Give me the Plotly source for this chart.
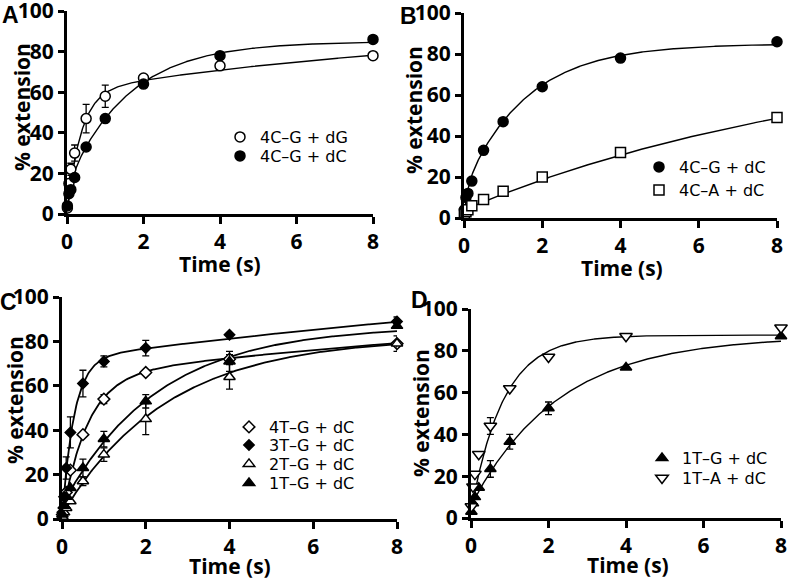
import numpy as np
import plotly.graph_objects as go

# ---------------- data ----------------
TIME = [0.01, 0.05, 0.1, 0.2, 0.5, 1, 2, 4, 8]

# Panel A
A_4CG_dG = [3, 15, 22, 30, 47, 58, 67, 73, 78]
A_4CG_dG_err = [0, 0, 3, 4, 7, 5.5, 1, 0, 0]
A_4CG_dC = [4, 10, 12, 18, 33, 47, 64, 78, 86]
A_4CG_dC_err = [0, 0, 0, 0, 0, 0, 0, 0, 0]

# Panel B
B_4CG_dC = [4, 10, 12, 18, 33, 47, 64, 78, 86]
B_4CA_dC = [2, 3, 4, 6, 9, 13, 20, 32, 49]
B_zero_err = [0, 0, 0, 0, 0, 0, 0, 0, 0]

# Panel C
C_4TG = [2, 5, 12, 22, 38, 54, 66, 72, 79]
C_4TG_err = [0, 0, 0, 0, 0, 2, 1, 2, 0]
C_3TG = [3, 10, 23, 39, 61, 71, 77, 83, 89]
C_3TG_err = [0, 0, 5, 7, 6, 2.5, 3.5, 0, 2]
C_2TG = [1, 3, 5, 8, 17, 29, 45, 64, 79]
C_2TG_err = [0, 0, 0, 0, 2, 3, 7, 5.5, 3.5]
C_1TG = [2, 6, 10, 14, 23, 36, 53, 71, 87]
C_1TG_err = [0, 0, 0, 0, 4, 3.5, 3, 4.5, 0]

# Panel D
D_1TG = [3, 7, 10, 14.5, 23.5, 36.5, 52.5, 72, 87]
D_1TG_err = [0, 0, 0, 0, 4, 3.5, 3, 0, 0]
D_1TA = [5.5, 15, 21, 30.5, 44, 62, 77, 87, 91]
D_1TA_err = [0, 0, 0, 0, 4, 0, 0, 0, 0]

# Fit parameters: [offset, amp1, rate1, amp2, rate2]
FIT_A_dG = [0, 60, 2.8, 33, 0.1]
FIT_A_dC = [2, 12, 10, 71, 0.63]
FIT_B_4CA = [4, 81, 0.1, 0, 0]
FIT_C_4TG = [0, 64, 1.7, 40, 0.06]
FIT_C_3TG = [0, 72, 3.5, 51, 0.05]
FIT_C_2TG = [2, 80, 0.40, 0, 0]
FIT_1TG = [6, 81, 0.44, 0, 0]
FIT_D_1TA = [3, 84.5, 1.2, 0, 0]

X_TICKS = [0, 2, 4, 6, 8]
Y_TICKS = [0, 20, 40, 60, 80, 100]

# ---------------- figure ----------------
W, H = 790, 578
tgrid = np.linspace(0, 8, 400)


def model(p, t):
    c, a1, k1, a2, k2 = p
    return c + a1 * (1 - np.exp(-k1 * t)) + a2 * (1 - np.exp(-k2 * t))


def domx(l, r):
    return [l / W, r / W]


def domy(top, bottom):
    return [1 - bottom / H, 1 - top / H]


fig = go.Figure()

BLACK = "black"
LEGFONT = dict(family="DejaVu Sans", size=16, color=BLACK)
legends = {}


def add_points(name, y, err, symbol, filled, size, xa, ya, leg_xy):
    key = "legend" if not legends else "legend%d" % (len(legends) + 1)
    legends[key] = dict(x=leg_xy[0] / W, y=1 - leg_xy[1] / H,
                        xanchor="left", yanchor="middle", font=LEGFONT,
                        bgcolor="rgba(0,0,0,0)", borderwidth=0, itemwidth=30)
    fig.add_trace(go.Scatter(
        x=TIME, y=y, mode="markers", name=name,
        xaxis=xa, yaxis=ya, legend=key, cliponaxis=False,
        marker=dict(symbol=symbol, size=size,
                    color=BLACK if filled else "white",
                    line=dict(color=BLACK, width=1.5)),
        error_y=dict(type="data", array=err, visible=True,
                     color=BLACK, thickness=1.3, width=3.5),
    ))


def add_fit(p, xa, ya, width=1.4):
    fig.add_trace(go.Scatter(
        x=tgrid, y=model(p, tgrid), mode="lines", showlegend=False,
        xaxis=xa, yaxis=ya, hoverinfo="skip",
        line=dict(color=BLACK, width=width),
    ))


# Panel A
add_fit(FIT_A_dG, "x", "y")
add_fit(FIT_A_dC, "x", "y")
add_points("4C–G + dG", A_4CG_dG, A_4CG_dG_err, "circle", False, 10, "x", "y", (220, 137))
add_points("4C–G + dC", A_4CG_dC, A_4CG_dC_err, "circle", True, 10, "x", "y", (220, 156))

# Panel B
add_fit(FIT_A_dC, "x2", "y2")
add_fit(FIT_B_4CA, "x2", "y2")
add_points("4C–G + dC", B_4CG_dC, B_zero_err, "circle", True, 10, "x2", "y2", (639, 167))
add_points("4C–A + dC", B_4CA_dC, B_zero_err, "square", False, 10, "x2", "y2", (639, 190))

# Panel C
add_fit(FIT_C_4TG, "x3", "y3", 1.8)
add_fit(FIT_C_3TG, "x3", "y3", 1.8)
add_fit(FIT_C_2TG, "x3", "y3", 1.8)
add_fit(FIT_1TG, "x3", "y3", 1.8)
add_points("4T–G + dC", C_4TG, C_4TG_err, "diamond", False, 9, "x3", "y3", (229, 427))
add_points("3T–G + dC", C_3TG, C_3TG_err, "diamond", True, 8, "x3", "y3", (229, 445))
add_points("2T–G + dC", C_2TG, C_2TG_err, "triangle-up", False, 10, "x3", "y3", (229, 464))
add_points("1T–G + dC", C_1TG, C_1TG_err, "triangle-up", True, 10, "x3", "y3", (229, 483))

# Panel D
add_fit(FIT_1TG, "x4", "y4")
add_fit(FIT_D_1TA, "x4", "y4")
add_points("1T–G + dC", D_1TG, D_1TG_err, "triangle-up", True, 10, "x4", "y4", (642, 458))
add_points("1T–A + dC", D_1TA, D_1TA_err, "triangle-down", False, 11, "x4", "y4", (642, 478))

TICKFONT = dict(family="Open Sans", size=21, color=BLACK, weight="bold")


def xaxis(dom, anchor):
    return dict(domain=dom, anchor=anchor, range=[0, 8], tickmode="array",
                tickvals=X_TICKS, ticktext=[str(v) for v in X_TICKS],
                showline=True, linecolor=BLACK, linewidth=3.2,
                ticks="outside", ticklen=7, tickwidth=3, tickcolor=BLACK,
                showgrid=False, zeroline=False, tickfont=TICKFONT,
                automargin=False, ticklabeloverflow="allow")


def yaxis(dom, anchor):
    return dict(domain=dom, anchor=anchor, range=[0, 100], tickmode="array",
                tickvals=Y_TICKS, ticktext=[str(v) for v in Y_TICKS],
                showline=True, linecolor=BLACK, linewidth=3.2,
                ticks="outside", ticklen=6, tickwidth=3, tickcolor=BLACK,
                showgrid=False, zeroline=False, tickfont=TICKFONT,
                automargin=False, ticklabeloverflow="allow")


PANELS = {
    "A": dict(xd=domx(67, 373), yd=domy(11, 214)),
    "B": dict(xd=domx(464, 777), yd=domy(13, 218)),
    "C": dict(xd=domx(62, 397), yd=domy(297, 519)),
    "D": dict(xd=domx(471, 781), yd=domy(309, 518)),
}

fig.update_layout(
    width=W, height=H, margin=dict(l=0, r=0, t=0, b=0, autoexpand=False),
    paper_bgcolor="white", plot_bgcolor="white",
    xaxis=xaxis(PANELS["A"]["xd"], "y"), yaxis=yaxis(PANELS["A"]["yd"], "x"),
    xaxis2=xaxis(PANELS["B"]["xd"], "y2"), yaxis2=yaxis(PANELS["B"]["yd"], "x2"),
    xaxis3=xaxis(PANELS["C"]["xd"], "y3"), yaxis3=yaxis(PANELS["C"]["yd"], "x3"),
    xaxis4=xaxis(PANELS["D"]["xd"], "y4"), yaxis4=yaxis(PANELS["D"]["yd"], "x4"),
    showlegend=True,
    **legends,
)

TITLEFONT = dict(family="Open Sans", size=21, color=BLACK, weight="bold")
LETTERFONT = dict(family="Liberation Sans", size=23, color=BLACK, weight="bold")


def ann(text, xpx, ypx, font, angle=0):
    fig.add_annotation(text=text, x=xpx / W, y=1 - ypx / H, xref="paper", yref="paper",
                       xanchor="center", yanchor="middle", showarrow=False,
                       font=font, textangle=angle)


# panel letters
ann("A", 10, 15, LETTERFONT)
ann("B", 408, 16, LETTERFONT)
ann("C", 8, 302, LETTERFONT)
ann("D", 419, 300, LETTERFONT)

# axis titles
ann("Time (s)", 220, 264, TITLEFONT)
ann("Time (s)", 622, 268, TITLEFONT)
ann("Time (s)", 230, 566, TITLEFONT)
ann("Time (s)", 628, 565, TITLEFONT)
ann("% extension", 22, 107, TITLEFONT, -90)
ann("% extension", 414, 110, TITLEFONT, -90)
ann("% extension", 15, 400, TITLEFONT, -90)
ann("% extension", 421, 413, TITLEFONT, -90)

fig.write_html("out.html",
               config={"displayModeBar": False},
               post_script="document.body.style.margin='0';document.body.style.overflow='hidden';")
